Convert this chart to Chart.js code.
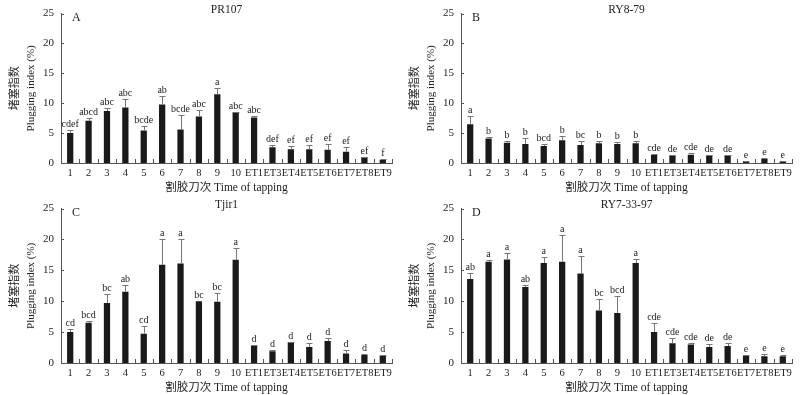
<!DOCTYPE html>
<html>
<head>
<meta charset="utf-8">
<script src="https://cdn.jsdelivr.net/npm/chart.js@4.4.0/dist/chart.umd.min.js"></script>
<style>
  body { margin: 0; background: #fff; }
  .wrap { position: relative; width: 800px; height: 395px; }
  .panel { position: absolute; width: 400px; }
</style>
</head>
<body>
<div class="wrap">
  <div class="panel" style="left:0;top:0;height:195px"><canvas id="pa"></canvas></div>
  <div class="panel" style="left:400px;top:0;height:195px"><canvas id="pb"></canvas></div>
  <div class="panel" style="left:0;top:195px;height:200px"><canvas id="pc"></canvas></div>
  <div class="panel" style="left:400px;top:195px;height:200px"><canvas id="pd"></canvas></div>
</div>
<script>
var categories = ["1", "2", "3", "4", "5", "6", "7", "8", "9", "10", "ET1", "ET3", "ET4", "ET5", "ET6", "ET7", "ET8", "ET9"];
var yTicks = [0, 5, 10, 15, 20, 25];

// PR107
var pr107 = [5.0, 7.05, 8.7, 9.3, 5.45, 9.8, 5.6, 7.8, 11.5, 8.5, 7.6, 2.65, 2.3, 2.3, 2.2, 1.9, 1.0, 0.55];
var pr107Se = [0.6, 0.45, 0.5, 1.4, 0.75, 1.4, 2.4, 1.1, 1.1, 0.1, 0.3, 0.35, 0.6, 0.7, 0.9, 0.7, 0.05, 0.05];
var pr107Sig = ["cdef", "abcd", "abc", "abc", "bcde", "ab", "bcde", "abc", "a", "abc", "abc", "def", "ef", "ef", "ef", "ef", "ef", "f"];

// RY8-79
var ry879 = [6.5, 4.1, 3.4, 3.2, 2.85, 3.8, 3.0, 3.3, 3.2, 3.3, 1.35, 1.25, 1.4, 1.3, 1.3, 0.3, 0.7, 0.3];
var ry879Se = [1.3, 0.3, 0.3, 0.9, 0.25, 0.8, 0.6, 0.3, 0.35, 0.3, 0.1, 0.15, 0.25, 0.05, 0.05, 0.05, 0.1, 0.05];
var ry879Sig = ["a", "b", "b", "b", "bcd", "b", "bc", "b", "b", "b", "cde", "de", "cde", "de", "de", "e", "e", "e"];

// Tjir1
var tjir1 = [5.0, 6.5, 9.7, 11.55, 4.75, 15.9, 16.1, 10.0, 9.9, 16.7, 2.85, 1.9, 3.35, 2.6, 3.55, 1.55, 1.3, 1.2];
var tjir1Se = [0.55, 0.35, 1.4, 1.15, 1.3, 4.2, 4.0, 0, 1.4, 2.0, 0.1, 0.25, 0.05, 0.7, 0.5, 0.55, 0.2, 0.05];
var tjir1Sig = ["cd", "bcd", "bc", "ab", "cd", "a", "a", "bc", "bc", "a", "d", "d", "d", "d", "d", "d", "d", "d"];

// RY7-33-97
var ry73397 = [13.6, 16.4, 16.75, 12.3, 16.2, 16.4, 14.5, 8.5, 8.1, 16.2, 5.0, 3.2, 3.0, 2.6, 2.75, 1.2, 1.1, 1.1];
var ry73397Se = [0.95, 0.2, 1.05, 0.4, 1.0, 4.4, 2.9, 1.9, 2.7, 0.65, 1.5, 0.9, 0.2, 0.5, 0.5, 0.1, 0.4, 0.2];
var ry73397Sig = ["ab", "a", "a", "ab", "a", "a", "a", "bc", "bcd", "a", "cde", "cde", "cde", "de", "de", "e", "e", "e"];

var serif = "'Liberation Serif', 'Noto Sans CJK SC', serif";
var axisColor = "#555";

// error bars, letters, inward ticks, title and panel letter
var extrasPlugin = {
  id: "extras",
  afterDatasetsDraw: function (chart, args, opts) {
    var ctx = chart.ctx;
    var x = chart.scales.x;
    var y = chart.scales.y;
    var area = chart.chartArea;
    var vals = chart.data.datasets[0].data;

    ctx.save();
    // error bars (upper half only)
    ctx.strokeStyle = "#777";
    ctx.lineWidth = 1;
    for (var i = 0; i < vals.length; i++) {
      var se = opts.se[i];
      if (!se) continue;
      var px = Math.round(x.getPixelForValue(i)) + 0.5;
      var y0 = y.getPixelForValue(vals[i]);
      var y1 = Math.round(y.getPixelForValue(vals[i] + se)) + 0.5;
      ctx.beginPath();
      ctx.moveTo(px, y0);
      ctx.lineTo(px, y1);
      ctx.moveTo(px - 3, y1);
      ctx.lineTo(px + 3, y1);
      ctx.stroke();
    }

    // significance letters
    ctx.fillStyle = "#222";
    ctx.font = "10px " + serif;
    ctx.textAlign = "center";
    ctx.textBaseline = "alphabetic";
    for (var j = 0; j < vals.length; j++) {
      var top = y.getPixelForValue(vals[j] + (opts.se[j] || 0));
      ctx.fillText(opts.sig[j], x.getPixelForValue(j), top - 3);
    }

    // inward tick marks
    ctx.strokeStyle = axisColor;
    ctx.beginPath();
    yTicks.forEach(function (t) {
      var py = Math.round(y.getPixelForValue(t)) + 0.5;
      ctx.moveTo(area.left, py);
      ctx.lineTo(area.left + 3, py);
    });
    var step = x.getPixelForValue(1) - x.getPixelForValue(0);
    for (var k = 0; k <= vals.length; k++) {
      var bx = Math.round(x.getPixelForValue(k) - step / 2) + 0.5;
      ctx.moveTo(bx, area.bottom);
      ctx.lineTo(bx, area.bottom - 4);
    }
    ctx.stroke();

    // title and panel letter
    ctx.fillStyle = "#222";
    ctx.font = "11.5px " + serif;
    ctx.textBaseline = "middle";
    ctx.textAlign = "center";
    ctx.fillText(opts.title, (area.left + area.right) / 2, area.top - 4);
    ctx.font = "12px " + serif;
    ctx.textAlign = "left";
    ctx.fillText(opts.letter, area.left + 11, area.top + 4);
    ctx.restore();
  },
};

function makeChart(id, values, se, sig, title, letter, padTop) {
  return new Chart(document.getElementById(id), {
    type: "bar",
    data: {
      labels: categories,
      datasets: [
        {
          data: values,
          backgroundColor: "#1a1a1a",
          categoryPercentage: 1,
          barPercentage: 0.34,
        },
      ],
    },
    options: {
      responsive: true,
      maintainAspectRatio: false,
      animation: false,
      layout: {
        padding: { top: padTop, right: 8, bottom: 0, left: 0 },
      },
      plugins: {
        legend: { display: false },
        tooltip: { enabled: false },
        extras: { se: se, sig: sig, title: title, letter: letter },
      },
      scales: {
        x: {
          offset: true,
          grid: { display: false, drawTicks: false },
          border: { display: true, color: axisColor, width: 1 },
          ticks: {
            color: "#222",
            font: { family: serif, size: 10.5 },
            padding: 4,
            maxRotation: 0,
            autoSkip: false,
          },
          title: {
            display: true,
            text: "割胶刀次 Time of tapping",
            color: "#222",
            font: { family: serif, size: 11.5 },
            padding: { top: 0, bottom: 0 },
          },
          afterFit: function (s) {
            s.height = 32;
          },
        },
        y: {
          min: 0,
          max: 25,
          grid: { display: false, drawTicks: false },
          border: { display: true, color: axisColor, width: 1 },
          ticks: {
            stepSize: 5,
            color: "#222",
            font: { family: serif, size: 11 },
            padding: 7,
          },
          title: {
            display: true,
            text: ["堵塞指数", "Plugging index (%)"],
            color: "#222",
            font: { family: serif, size: 11, lineHeight: 1.45 },
            padding: { top: 7, bottom: 0 },
          },
          afterFit: function (s) {
            s.width = 61;
          },
        },
      },
    },
    plugins: [extrasPlugin],
  });
}

makeChart("pa", pr107, pr107Se, pr107Sig, "PR107", "A", 9);
makeChart("pb", ry879, ry879Se, ry879Sig, "RY8-79", "B", 9);
makeChart("pc", tjir1, tjir1Se, tjir1Sig, "Tjir1", "C", 13);
makeChart("pd", ry73397, ry73397Se, ry73397Sig, "RY7-33-97", "D", 13);
</script>
</body>
</html>
